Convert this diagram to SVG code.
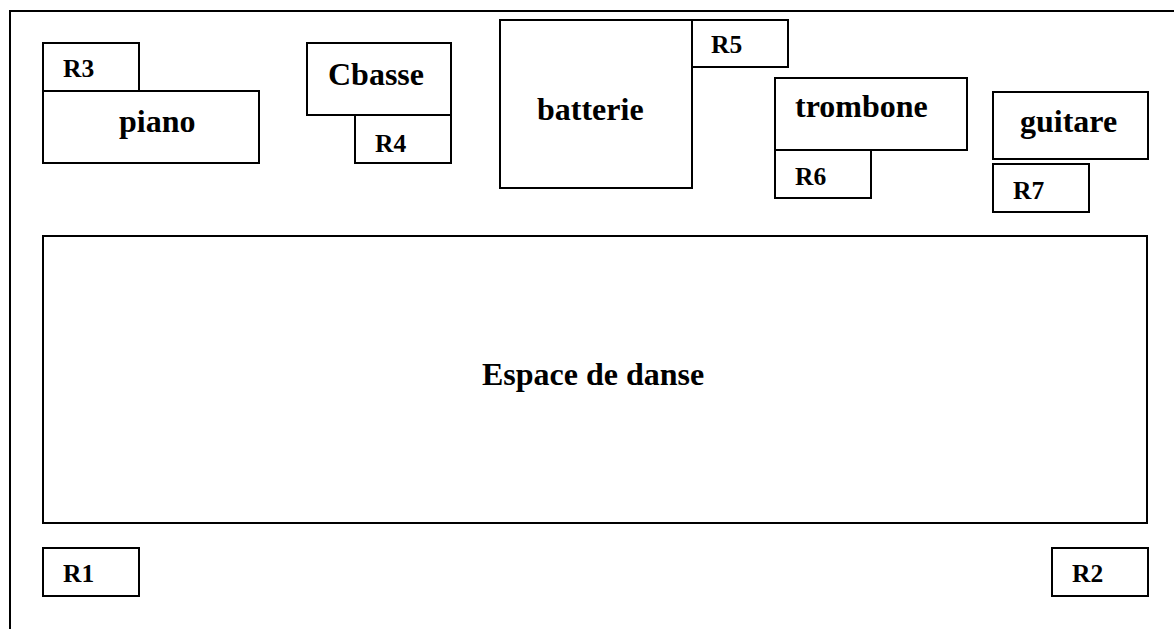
<svg xmlns="http://www.w3.org/2000/svg" width="1174" height="629" viewBox="0 0 1174 629">
<style>
rect{fill:#fff;stroke:#000;stroke-width:2}
text{font-family:"Liberation Serif","Times New Roman",serif;font-weight:bold;fill:#000}
.big{font-size:32px}
.small{font-size:25.5px}
</style>
<rect x="0" y="0" width="1174" height="629" style="stroke:none"/>
<path d="M10 629 V11 H1174" fill="none" stroke="#000" stroke-width="2"/>
<g id="piano"><rect x="43" y="91" width="216" height="72"/><text class="big" x="119" y="132">piano</text></g>
<g id="R3"><rect x="43" y="43" width="96" height="48"/><text class="small" x="63" y="77">R3</text></g>
<g id="Cbasse"><rect x="307" y="43" width="144" height="72"/><text class="big" x="328" y="85">Cbasse</text></g>
<g id="R4"><rect x="355" y="115" width="96" height="48"/><text class="small" x="375" y="152">R4</text></g>
<g id="batterie"><rect x="500" y="20" width="192" height="168"/><text class="big" x="537" y="120">batterie</text></g>
<g id="R5"><rect x="692" y="20" width="96" height="47"/><text class="small" x="711" y="53">R5</text></g>
<g id="trombone"><rect x="775" y="78" width="192" height="72"/><text class="big" x="795" y="117">trombone</text></g>
<g id="R6"><rect x="775" y="150" width="96" height="48"/><text class="small" x="795" y="185">R6</text></g>
<g id="guitare"><rect x="993" y="92" width="155" height="67"/><text class="big" x="1020" y="132">guitare</text></g>
<g id="R7"><rect x="993" y="164" width="96" height="48"/><text class="small" x="1013" y="199">R7</text></g>
<g id="espace"><rect x="43" y="236" width="1104" height="287"/><text class="big" x="482" y="385">Espace de danse</text></g>
<g id="R1"><rect x="43" y="548" width="96" height="48"/><text class="small" x="63" y="582">R1</text></g>
<g id="R2"><rect x="1052" y="548" width="96" height="48"/><text class="small" x="1072" y="582">R2</text></g>
<g id="connectors"></g>
</svg>
